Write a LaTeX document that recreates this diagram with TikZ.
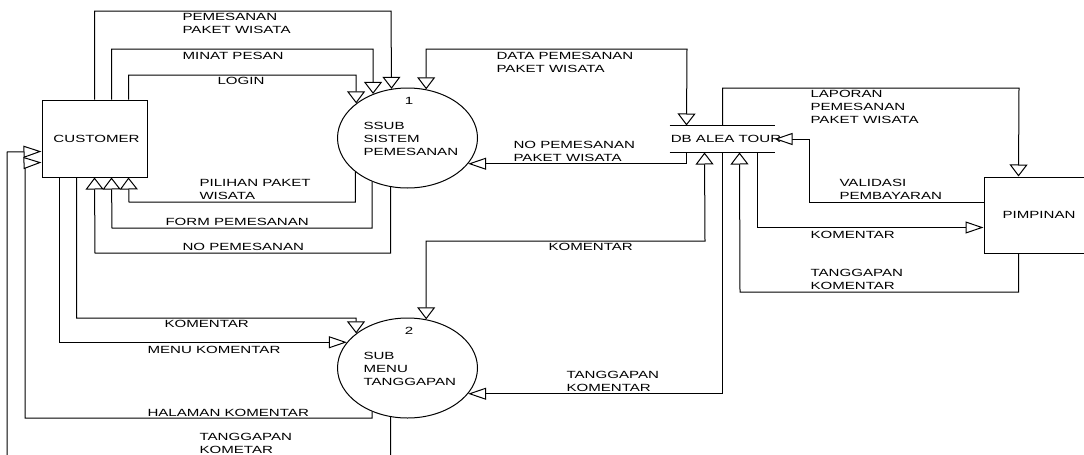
\documentclass[tikz,border=0pt]{standalone}
\usepackage{fontspec}
\setmainfont[FakeStretch=1.45]{Liberation Sans}
\usetikzlibrary{arrows.meta,calc,shapes.geometric}
\begin{document}
\begin{tikzpicture}[x=1pt,y=-1pt,line width=1pt,
  lbl/.style={anchor=west,inner sep=0pt,align=left,font=\fontsize{10.4}{13}\selectfont},
  ctr/.style={inner sep=0pt,font=\fontsize{10.4}{13}\selectfont},
  entity/.style={draw,rectangle,inner sep=0pt,font=\fontsize{10.4}{13}\selectfont},
  proc/.style={draw,ellipse,minimum width=140pt,minimum height=100pt,inner sep=0pt},
  store/.style={rectangle,minimum width=104pt,minimum height=26pt,inner sep=0pt},
  va/.style={-{Triangle[length=12pt,width=18pt,fill=white]}},
  ha/.style={-{Triangle[length=18pt,width=12pt,fill=white]}},
  vva/.style={{Triangle[length=12pt,width=18pt,fill=white]}-{Triangle[length=12pt,width=18pt,fill=white]}}]
\useasboundingbox (0,0) rectangle (1084,455);
\clip (0,0) rectangle (1084,455);

% nodes
\node[entity,minimum width=105pt,minimum height=77pt] (cust) at (94.5,138.5) {\hspace*{4pt}CUSTOMER};
\node[entity,minimum width=110pt,minimum height=76pt] (pim) at (1039,215) {PIMPINAN};
\node[proc] (p1) at (407.5,138) {};
\node[proc] (p2) at (407.5,368) {};
\node[store] (db) at (722,139) {};
\draw (db.north west) -- (db.north east);
\draw (db.south west) -- (db.south east);
\node[ctr] (dbt) at (726,139) {DB ALEA TOUR};

\node[ctr] (p1n) at (409,101) {1};
\node[lbl] (p1t) at (363,139) {SSUB\\SISTEM\\PEMESANAN};
\node[ctr] (p2n) at (409,331) {2};
\node[lbl] (p2t) at (363,369) {SUB\\MENU\\TANGGAPAN};

% customer -> p1
\draw[va] ($(cust.north west)+(53,0)$) |- (391,11) -- (p1.108.75);
\draw[va] ($(cust.north west)+(70,0)$) |- (373,49) -- (p1.128.4);
\draw[va] ($(cust.north west)+(87,0)$) |- (356,75) -- (p1.146.65);
% p1 -> customer
\draw[va] (p1.213.35) |- (129,202) -- ($(cust.south west)+(87,0)$);
\draw[va] (p1.231.6) |- (112,228) -- ($(cust.south west)+(70,0)$);
\draw[va] (p1.251.25) |- (95,253) -- ($(cust.south west)+(53,0)$);
% customer -> p2
\draw[va] ($(cust.south west)+(35,0)$) |- (356,318) -- (p2.146.65);
\draw[ha] ($(cust.south west)+(18,0)$) |- (p2.157.6);
% p2 -> customer
\draw[ha] (p2.231.6) |- (25,418) -- (25,163) -- ($(cust.north west)+(0,63)$);
\draw[ha] (p2.251.25) |- (7,470) -- (7,152) -- ($(cust.north west)+(0,52)$);
% p1 <-> db
\draw[vva] (p1.69) |- (687,49) -- ($(db.north west)+(17,0)$);
\draw[ha] ($(db.south west)+(17,0)$) |- (p1.337.6);
% db <-> p2
\draw[vva] (p2.69) |- (705,241) -- ($(db.south west)+(35,0)$);
\draw[ha] ($(db.south west)+(53,0)$) |- (p2.337.6);
% db <-> pimpinan
\draw[va] ($(db.north west)+(53,0)$) |- (1019,88) -- ($(pim.north west)+(35,0)$);
\draw[ha] ($(pim.north west)+(0,26)$) -| (809,139) -- (db.east);
\draw[ha] ($(db.south west)+(88,0)$) |- ($(pim.north west)+(0,51)$);
\draw[va] ($(pim.south west)+(35,0)$) |- (740,292) -- ($(db.south west)+(70,0)$);

% labels
\node[lbl] (l1) at (182,23) {PEMESANAN\\PAKET WISATA};
\node[lbl] (l2) at (182,56) {MINAT PESAN};
\node[lbl] (l3) at (217,81) {LOGIN};
\node[lbl] (l4) at (199,189.5) {PILIHAN PAKET\\WISATA};
\node[lbl] (l5) at (165,222) {FORM PEMESANAN};
\node[lbl] (l6) at (182,247) {NO PEMESANAN};
\node[lbl] (l7) at (164,324) {KOMENTAR};
\node[lbl] (l8) at (147,350) {MENU KOMENTAR};
\node[lbl] (l9) at (147,413) {HALAMAN KOMENTAR};
\node[lbl] (l10) at (199,443) {TANGGAPAN\\KOMETAR};
\node[lbl] (l11) at (496,62) {DATA PEMESANAN\\PAKET WISATA};
\node[lbl] (l12) at (513,151) {NO PEMESANAN\\PAKET WISATA};
\node[lbl] (l13) at (548,247) {KOMENTAR};
\node[lbl] (l14) at (566,381.5) {TANGGAPAN\\KOMENTAR};
\node[lbl] (l15) at (810,107) {LAPORAN\\PEMESANAN\\PAKET WISATA};
\node[lbl] (l16) at (839,189.5) {VALIDASI\\PEMBAYARAN};
\node[lbl] (l17) at (810,235) {KOMENTAR};
\node[lbl] (l18) at (810,279.5) {TANGGAPAN\\KOMENTAR};
\end{tikzpicture}
\end{document}
